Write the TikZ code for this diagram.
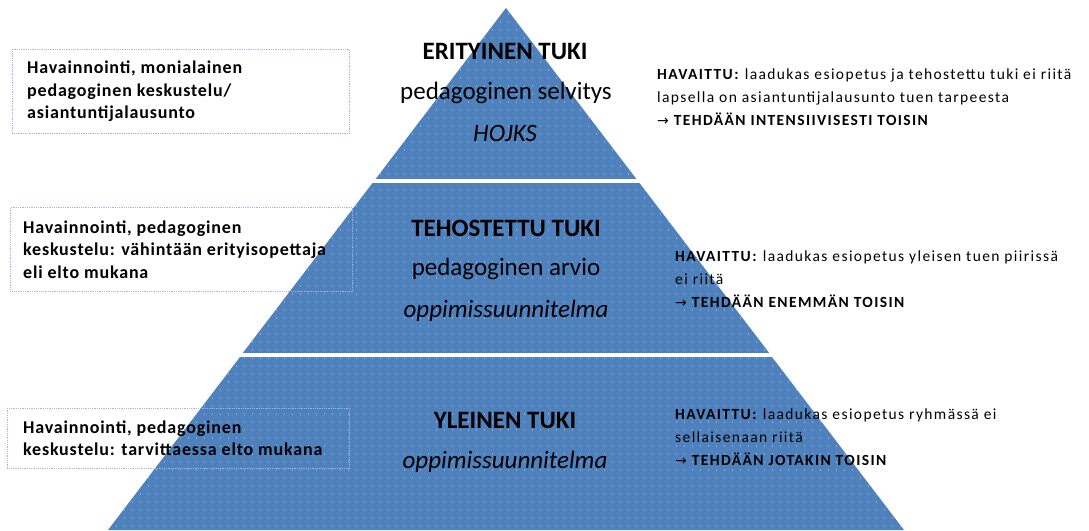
\documentclass[tikz,border=0pt]{standalone}
\usepackage{fontspec}
\setmainfont{Carlito}
\newfontfamily\nuolifont{DejaVu Sans}
\usetikzlibrary{positioning}
\definecolor{pyrblue}{HTML}{4F81BD}
\definecolor{pyrdot}{HTML}{86A9DC}
\definecolor{boxline}{HTML}{ADADEE}
\newcommand{\nuoli}{{\nuolifont\fontsize{14}{14}\selectfont\char"2192}}

\begin{document}
\begin{tikzpicture}[x=1pt,y=-1pt,
    band/.style={fill=pyrblue},
    tasonimi/.style={font=\fontsize{25}{28}\selectfont\bfseries},
    tasoteksti/.style={font=\fontsize{25}{28}\selectfont},
    tasoasiakirja/.style={font=\fontsize{25}{28}\selectfont\itshape},
    havkehys/.style={draw=boxline, densely dotted, line width=0.8pt, anchor=north west},
    havteksti/.style={font=\fontsize{18}{22.5}\selectfont\bfseries\addfontfeature{LetterSpace=4.5}, align=left, anchor=west, inner sep=0pt},
    havaittu/.style={font=\fontsize{15.5}{23}\selectfont\addfontfeature{LetterSpace=9}, align=left, anchor=west, inner sep=0pt}]
    \useasboundingbox (0,0) rectangle (1089,530);
    % pyramidi
    \fill[band] (506,8) -- (636.4,179) -- (375.6,179) -- cycle;
    \fill[band] (372.5,183) -- (639.5,183) -- (769.2,353) -- (242.8,353) -- cycle;
    \fill[band] (240,357) -- (772,357) -- (904,530) -- (108,530) -- cycle;
    \begin{scope}
        \clip (506,8) -- (904,530) -- (108,530) -- cycle;
        \foreach \y in {14,22,...,530}
            \draw[pyrdot, line width=1.1pt, dash pattern=on 1.1pt off 6.9pt] (100,\y) -- (910,\y);
    \end{scope}
    \fill[white] (300,179) rectangle (700,183);
    \fill[white] (200,353) rectangle (800,357);
    % tasot
    \node[tasonimi] (eritnimi) at (505,51) {ERITYINEN TUKI};
    \node[tasoteksti] (eritselv) at (506,93) {pedagoginen selvitys};
    \node[tasoasiakirja] (hojks) at (505,133) {HOJKS};
    \node[tasonimi] (tehonimi) at (506,228) {TEHOSTETTU TUKI};
    \node[tasoteksti] (tehoarvio) at (506,269) {pedagoginen arvio};
    \node[tasoasiakirja] (tehosuun) at (506,311) {oppimissuunnitelma};
    \node[tasonimi] (yleinimi) at (505,420) {YLEINEN TUKI};
    \node[tasoasiakirja] (yleisuun) at (505,462) {oppimissuunnitelma};
    % havainnointi
    \node[havkehys, minimum width=337pt, minimum height=84pt] (kehys1) at (12,49) {};
    \node[havteksti, right=15pt of kehys1.west] (hav1) {Havainnointi, monialainen\\pedagoginen keskustelu/\\asiantuntijalausunto};
    \node[havkehys, minimum width=342pt, minimum height=84pt] (kehys2) at (10,207) {};
    \node[havteksti, right=13pt of kehys2.west] (hav2) {Havainnointi, pedagoginen\\keskustelu: vähintään erityisopettaja\\eli elto mukana};
    \node[havkehys, minimum width=342pt, minimum height=60pt] (kehys3) at (7,408) {};
    \node[havteksti, right=16pt of kehys3.west] (hav3) {Havainnointi, pedagoginen\\keskustelu: tarvittaessa elto mukana};
    % havaittu
    \node[havaittu] (havaittu1) at (657,97) {\textbf{HAVAITTU:} laadukas esiopetus ja tehostettu tuki ei riitä\\lapsella on asiantuntijalausunto tuen tarpeesta\\\nuoli\ \textbf{TEHDÄÄN INTENSIIVISESTI TOISIN}};
    \node[havaittu] (havaittu2) at (675,279) {\textbf{HAVAITTU:} laadukas esiopetus yleisen tuen piirissä\\ei riitä\\\nuoli\ \textbf{TEHDÄÄN ENEMMÄN TOISIN}};
    \node[havaittu] (havaittu3) at (675,437) {\textbf{HAVAITTU:} laadukas esiopetus ryhmässä ei\\sellaisenaan riitä\\\nuoli\ \textbf{TEHDÄÄN JOTAKIN TOISIN}};
\end{tikzpicture}
\end{document}
